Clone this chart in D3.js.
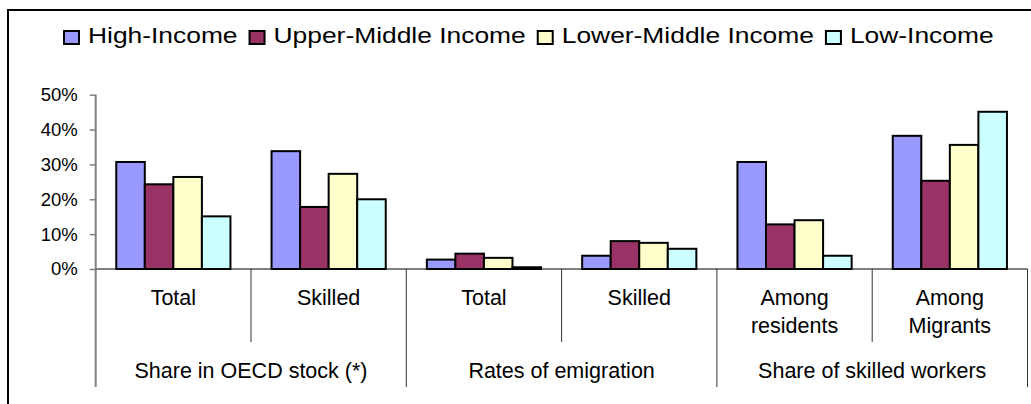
<!DOCTYPE html>
<html>
<head>
<meta charset="utf-8">
<script src="https://cdn.jsdelivr.net/npm/d3@7"></script>
<style>
  html, body { margin: 0; padding: 0; background: #fff; }
  svg { display: block; font-family: "Liberation Sans", Arial, sans-serif; }
</style>
</head>
<body>
<svg id="chart" width="1031" height="404"></svg>
<script>
// Income groups (series) and their colours
const seriesNames = ["High-Income", "Upper-Middle Income", "Lower-Middle Income", "Low-Income"];
const seriesColors = ["#9999FF", "#993366", "#FFFFCC", "#CCFFFF"];

// Categories along the x axis, grouped under three headings
const categoryLabels = [["Total"], ["Skilled"], ["Total"], ["Skilled"], ["Among", "residents"], ["Among", "Migrants"]];
const groupLabels = ["Share in OECD stock (*)", "Rates of emigration", "Share of skilled workers"];
const categoriesPerGroup = 2;

// Values (%) for each income group, one per category
const highIncome        = [30.7, 33.8, 2.7, 3.8, 30.7, 38.2];
const upperMiddleIncome = [24.3, 17.8, 4.4, 8.0, 12.8, 25.3];
const lowerMiddleIncome = [26.4, 27.3, 3.2, 7.5, 14.0, 35.6];
const lowIncome         = [15.1, 20.0, 0.5, 5.8,  3.8, 45.1];

// Y-axis ticks
const yTicks = [0, 10, 20, 30, 40, 50];

const seriesValues = [highIncome, upperMiddleIncome, lowerMiddleIncome, lowIncome];

const svg = d3.select("#chart");

const plot = { left: 95.7, right: 1027.5, top: 94.7, bottom: 269 };
const catRowBaseline = 305;
const catLineGap = 28;
const innerSepBottom = 342;
const groupSepBottom = 387;
const groupBaseline = 378;

// Outer frame (top and left edges visible)
svg.append("path")
  .attr("d", "M8,404 L8,10 L1031,10")
  .attr("fill", "none")
  .attr("stroke", "#000")
  .attr("stroke-width", 2);

const x0 = d3.scaleBand()
  .domain(d3.range(categoryLabels.length))
  .range([plot.left, plot.right])
  .paddingInner(0).paddingOuter(0);

const x1 = d3.scaleBand()
  .domain(d3.range(seriesNames.length))
  .range([0, x0.bandwidth()])
  .paddingInner(0).paddingOuter(0.72);

const y = d3.scaleLinear().domain([0, 50]).range([plot.bottom, plot.top]);

// Y axis
const yAxis = svg.append("g")
  .attr("transform", `translate(${plot.left},0)`)
  .call(d3.axisLeft(y).tickValues(yTicks).tickSize(6).tickPadding(12)
    .tickFormat(d => d + "%"));
yAxis.select(".domain").remove();
yAxis.selectAll(".tick line").attr("stroke", "#808080").attr("stroke-width", 1.5);
yAxis.selectAll(".tick text")
  .attr("fill", "#000")
  .style("font-size", "18.5px")
  .style("font-family", "'Liberation Sans', Arial, sans-serif");

// Bars
const groups = svg.append("g").selectAll("g")
  .data(d3.range(categoryLabels.length))
  .join("g")
  .attr("transform", i => `translate(${x0(i)},0)`);

groups.selectAll("rect")
  .data(i => seriesValues.map((vals, s) => ({ s, v: vals[i] })))
  .join("rect")
  .attr("x", d => x1(d.s))
  .attr("y", d => y(d.v))
  .attr("width", x1.bandwidth())
  .attr("height", d => y(0) - y(d.v))
  .attr("fill", d => seriesColors[d.s])
  .attr("stroke", "#000")
  .attr("stroke-width", 2);

// X axis baseline
svg.append("line")
  .attr("x1", plot.left).attr("x2", plot.right)
  .attr("y1", y(0)).attr("y2", y(0))
  .attr("stroke", "#000").attr("stroke-width", 1);

// Y axis line (extends down through the label rows)
svg.append("line")
  .attr("x1", plot.left).attr("x2", plot.left)
  .attr("y1", y(50)).attr("y2", groupSepBottom)
  .attr("stroke", "#808080").attr("stroke-width", 2);

// Category separators
const boundaries = d3.range(1, categoryLabels.length + 1);
svg.append("g").selectAll("line")
  .data(boundaries)
  .join("line")
  .attr("x1", i => x0(i - 1) + x0.bandwidth())
  .attr("x2", i => x0(i - 1) + x0.bandwidth())
  .attr("y1", y(0))
  .attr("y2", i => i % categoriesPerGroup === 0 ? groupSepBottom : innerSepBottom)
  .attr("stroke", "#333")
  .attr("stroke-width", 1);

// Category labels
svg.append("g").selectAll("text")
  .data(categoryLabels)
  .join("text")
  .attr("text-anchor", "middle")
  .attr("x", (d, i) => x0(i) + x0.bandwidth() / 2)
  .attr("y", catRowBaseline)
  .style("font-size", "21.5px")
  .attr("fill", "#000")
  .selectAll("tspan")
  .data(d => d)
  .join("tspan")
  .attr("x", function() { return d3.select(this.parentNode).attr("x"); })
  .attr("dy", (d, j) => j === 0 ? 0 : catLineGap)
  .text(d => d);

// Group labels
svg.append("g").selectAll("text")
  .data(groupLabels)
  .join("text")
  .attr("text-anchor", "middle")
  .attr("x", (d, g) => x0(g * categoriesPerGroup) + x0.bandwidth() * categoriesPerGroup / 2)
  .attr("y", groupBaseline)
  .style("font-size", "21.5px")
  .attr("fill", "#000")
  .text(d => d);

// Legend
const legendFont = 22;
const legendStretch = 1.2;
const legend = svg.append("g").attr("transform", "translate(64,0)");
let cursor = 0;
seriesNames.forEach((name, s) => {
  const item = legend.append("g").attr("transform", `translate(${cursor},0)`);
  item.append("rect")
    .attr("x", 0).attr("y", 31)
    .attr("width", 15).attr("height", 13)
    .attr("fill", seriesColors[s])
    .attr("stroke", "#000").attr("stroke-width", 2);
  const t = item.append("text")
    .attr("transform", `translate(24,43) scale(${legendStretch},1)`)
    .style("font-size", legendFont + "px")
    .attr("fill", "#000")
    .text(name);
  const w = t.node().getComputedTextLength() * legendStretch;
  cursor += 24 + w + 12;
});
</script>
</body>
</html>
